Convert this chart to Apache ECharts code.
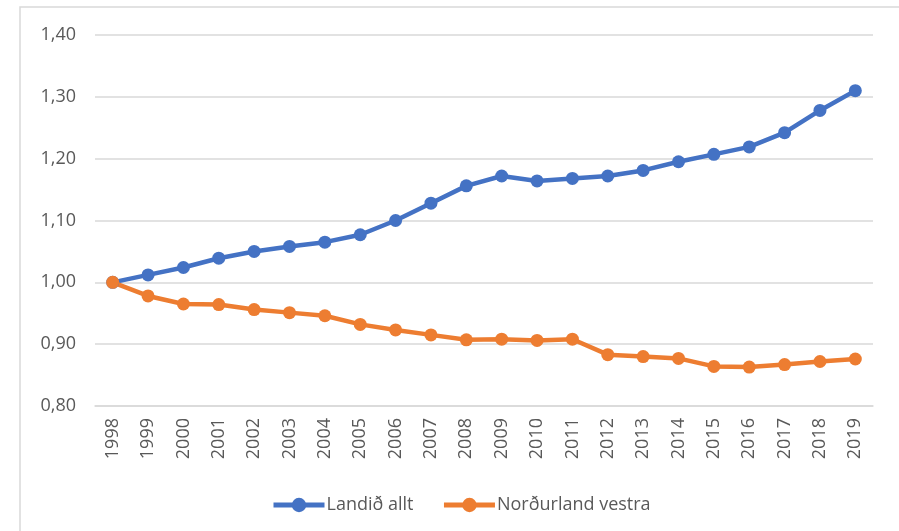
<!DOCTYPE html>
<html>
<head>
<meta charset="utf-8">
<script src="https://cdn.jsdelivr.net/npm/echarts@6/dist/echarts.min.js"></script>
<style>
  html, body { margin: 0; padding: 0; background: #fff; }
  #chart { width: 899px; height: 531px; }
</style>
</head>
<body>
<div id="chart"></div>
<script>
const years = ['1998', '1999', '2000', '2001', '2002', '2003', '2004', '2005', '2006', '2007', '2008',
  '2009', '2010', '2011', '2012', '2013', '2014', '2015', '2016', '2017', '2018', '2019']

const landidAllt = [1.000, 1.012, 1.024, 1.039, 1.050, 1.058, 1.065, 1.077, 1.100, 1.128, 1.156,
  1.172, 1.164, 1.168, 1.172, 1.181, 1.195, 1.207, 1.219, 1.242, 1.278, 1.310]

const nordurlandVestra = [1.000, 0.978, 0.965, 0.964, 0.956, 0.951, 0.946, 0.932, 0.923, 0.915, 0.907,
  0.908, 0.906, 0.908, 0.883, 0.880, 0.877, 0.864, 0.863, 0.867, 0.872, 0.876]

const seriesNames = ['Landið allt', 'Norðurland vestra']

const chart = echarts.init(document.getElementById('chart'))

const font = '"Open Sans", sans-serif'

const lineSeries = (name, data, color) => ({
  name: name,
  type: 'line',
  data: data,
  symbol: 'circle',
  symbolSize: 13,
  lineStyle: { color: color, width: 4.5 },
  itemStyle: { color: color },
  animation: false
})

const option = {
  backgroundColor: '#fff',
  graphic: [{
    type: 'rect',
    shape: { x: 20, y: 7, width: 900, height: 540 },
    style: { fill: 'none', stroke: '#d9d9d9', lineWidth: 1.5 },
    silent: true
  }],
  legend: {
    bottom: 12,
    left: 266,
    itemWidth: 51,
    itemHeight: 18,
    itemGap: 28,
    lineStyle: { width: 5 },
    textStyle: { fontFamily: font, fontSize: 18, color: '#595959', padding: [0, 0, 0, -3] },
    data: seriesNames
  },
  grid: {
    left: 95,
    right: 26,
    top: 35,
    bottom: 125
  },
  xAxis: {
    type: 'category',
    data: years,
    boundaryGap: true,
    axisLine: { lineStyle: { color: '#d9d9d9', width: 1.5 } },
    axisTick: { show: false },
    axisLabel: {
      rotate: 90,
      margin: 12,
      interval: 0,
      fontFamily: font,
      fontSize: 18,
      color: '#595959'
    }
  },
  yAxis: {
    type: 'value',
    min: 0.8,
    max: 1.4,
    interval: 0.1,
    axisLine: { show: false },
    axisTick: { show: false },
    splitLine: { lineStyle: { color: '#d9d9d9', width: 1.5 } },
    axisLabel: {
      margin: 19,
      fontFamily: font,
      fontSize: 18,
      color: '#595959',
      formatter: v => v.toFixed(2).replace('.', ',')
    }
  },
  series: [
    lineSeries(seriesNames[0], landidAllt, '#4472C4'),
    lineSeries(seriesNames[1], nordurlandVestra, '#ED7D31')
  ]
}

chart.setOption(option)
</script>
</body>
</html>
